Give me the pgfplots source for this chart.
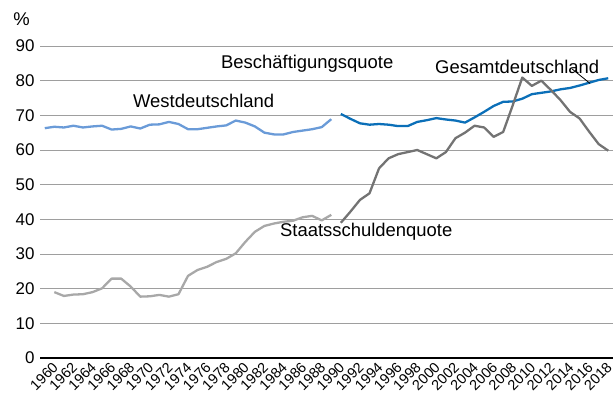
\documentclass[border=0pt]{standalone}
\usepackage{fontspec}
\setmainfont{Liberation Sans}
\usepackage{pgfplots}
\pgfplotsset{compat=1.18}

\definecolor{westblue}{HTML}{6A9BD8}
\definecolor{gesblue}{HTML}{0B6FB8}
\definecolor{westgray}{HTML}{A8A8A8}
\definecolor{gesgray}{HTML}{737373}
\definecolor{gridgray}{HTML}{9E9E9E}

% Beschaeftigungsquote Westdeutschland
\pgfplotstableread{
year val
1960 66.3
1961 66.7
1962 66.5
1963 67.0
1964 66.5
1965 66.8
1966 67.0
1967 65.9
1968 66.1
1969 66.8
1970 66.2
1971 67.3
1972 67.4
1973 68.1
1974 67.5
1975 66.0
1976 66.0
1977 66.4
1978 66.8
1979 67.1
1980 68.5
1981 67.9
1982 66.8
1983 65.0
1984 64.5
1985 64.5
1986 65.2
1987 65.6
1988 66.0
1989 66.6
1990 68.9
}\bqwest

% Beschaeftigungsquote Gesamtdeutschland
\pgfplotstableread{
year val
1991 70.4
1992 69.0
1993 67.7
1994 67.3
1995 67.5
1996 67.3
1997 66.9
1998 66.9
1999 68.1
2000 68.6
2001 69.2
2002 68.8
2003 68.5
2004 67.9
2005 69.4
2006 71.0
2007 72.7
2008 73.9
2009 74.0
2010 74.8
2011 76.1
2012 76.5
2013 76.9
2014 77.5
2015 77.9
2016 78.6
2017 79.4
2018 80.2
2019 80.7
}\bqges

% Staatsschuldenquote Westdeutschland
\pgfplotstableread{
year val
1961 19.0
1962 17.9
1963 18.3
1964 18.4
1965 19.0
1966 20.1
1967 22.9
1968 22.9
1969 20.6
1970 17.7
1971 17.8
1972 18.2
1973 17.7
1974 18.4
1975 23.7
1976 25.4
1977 26.3
1978 27.7
1979 28.6
1980 30.2
1981 33.5
1982 36.4
1983 38.1
1984 38.8
1985 39.3
1986 39.6
1987 40.6
1988 41.0
1989 39.7
1990 41.3
}\sqwest

% Staatsschuldenquote Gesamtdeutschland
\pgfplotstableread{
year val
1991 39.0
1992 42.2
1993 45.6
1994 47.5
1995 54.7
1996 57.6
1997 58.8
1998 59.4
1999 60.0
2000 58.8
2001 57.6
2002 59.4
2003 63.4
2004 65.0
2005 67.0
2006 66.5
2007 63.8
2008 65.2
2009 72.9
2010 80.9
2011 78.5
2012 80.0
2013 77.3
2014 74.4
2015 71.0
2016 69.1
2017 65.3
2018 61.7
2019 59.8
}\sqges

\begin{document}
\begin{tikzpicture}
\begin{axis}[
  scale only axis, width=573bp, height=312bp,
  xmin=1959.5, xmax=2019.5, ymin=0, ymax=90,
  xtick={1960,1962,...,2018}, ytick={0,10,...,90},
  axis x line=bottom, axis y line=left,
  x axis line style={-, black, line width=1.1pt},
  y axis line style={draw=none},
  major tick length=0pt,
  ymajorgrids, grid style={gridgray, line width=0.9pt},
  /pgf/number format/assume math mode=true,
  /pgf/number format/1000 sep={},
  yticklabel style={font=\fontsize{17}{17}\selectfont, xshift=-2bp},
  xticklabel style={font=\fontsize{14.5}{14.5}\selectfont, inner sep=0pt,
    xshift=7bp, yshift=-3bp, rotate=45, anchor=north east},
  clip=false,
  every axis plot/.append style={line width=2.3pt, line join=round, no marks},
]
\addplot[westblue] table[x=year, y=val] {\bqwest};
\addplot[gesblue] table[x=year, y=val] {\bqges};
\addplot[westgray] table[x=year, y=val] {\sqwest};
\addplot[gesgray] table[x=year, y=val] {\sqges};

\begin{scope}[every node/.style={font=\fontsize{18.5}{18.5}\selectfont, inner sep=0pt}]
\node[anchor=base west] at (axis cs:1956.7,96.05) {\%};
\node[anchor=base west] at (axis cs:1978.45,83.56) {Beschäftigungsquote};
\node[anchor=base west] at (axis cs:1969.23,72.4) {Westdeutschland};
\node[anchor=base west] at (axis cs:2000.86,82.12) {Gesamtdeutschland};
\node[anchor=base west] at (axis cs:1984.63,34.99) {Staatsschuldenquote};
\end{scope}
\draw[black, line width=0.8pt] (axis cs:2015.2,83.4) -- (axis cs:2017.1,79.2);
\end{axis}
\pgfresetboundingbox
\path[use as bounding box] ([xshift=-40bp,yshift=-45bp]current axis.south west)
  rectangle ([xshift=1bp,yshift=46bp]current axis.north east);
\end{tikzpicture}
\end{document}
